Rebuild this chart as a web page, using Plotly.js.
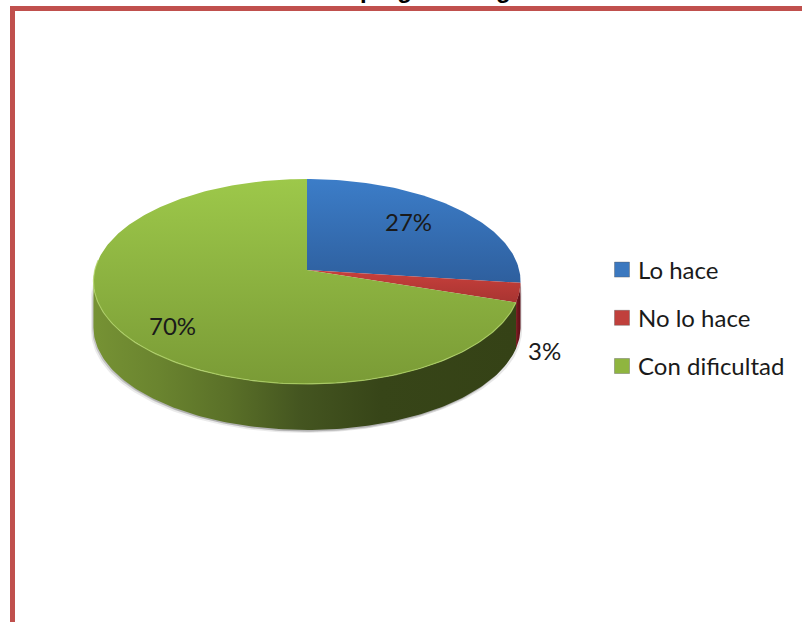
<!DOCTYPE html>
<html><head><meta charset="utf-8">
<script src="https://cdn.plot.ly/plotly-3.0.1.min.js"></script>
<style>html,body{margin:0;padding:0;background:#fff;overflow:hidden}#c{width:802px;height:622px}</style>
</head><body><div id="c"></div>
<script>
// data
const categories = ["Lo hace", "No lo hace", "Con dificultad"];
const shares = [27, 3, 70];
const titleText = "pregunta según";

// styles
const topScales = [
  [[0,"#2e5f9e"],[1,"#3c7dc8"]],
  [[0,"#a83431"],[1,"#c8403c"]],
  [[0,"#7a9b36"],[1,"#9dc84a"]]
];
const wallScales = [
  [[0,"#24456f"],[1,"#1d3a60"]],
  [[0,"#7c1a20"],[1,"#5a0e16"]],
  [[0,"#769234"],[0.155,"#6a842f"],[0.32,"#5a7028"],[0.49,"#445520"],[0.68,"#374518"],[1,"#354216"]]
];
const legendColors = ["#3b78bf","#c0403c","#8fb53f"];
const labelStyle = [{r:0.68,dx:-2,dy:-5},{r:1.12,dx:-1,dy:55},{r:0.75,dx:1,dy:9}];

// perspective disc projection
const cx=307, cy=270, a=212.2, b=101.2, k=0.112, depth=46;
function proj(deg,r){
  const t=deg*Math.PI/180, X=r*Math.sin(t), Y=-r*Math.cos(t), d=1-k*Y;
  return [cx+a*X/d, cy+b*Y/d];
}
const rightEdge=Math.acos(-k)*180/Math.PI, leftEdge=360-rightEdge;
const total=shares.reduce((s,v)=>s+v,0);
let start=0;
const spans=shares.map(v=>{const s=[start,start+v/total*360];start=s[1];return s;});

function arc(a0,a1){const n=Math.max(2,Math.ceil(Math.abs(a1-a0))),p=[];
  for(let i=0;i<=n;i++)p.push(proj(a0+(a1-a0)*i/n,1));return p;}
function wallPts(a0,a1){const e=arc(a0,a1);
  return e.concat(e.slice().reverse().map(q=>[q[0],q[1]+depth]));}

const traces=[];
// soft shadow
[[-2.5,3,0.10],[-1.2,1.5,0.22],[1.5,2,0.12]].forEach(s=>{
  const o=wallPts(rightEdge,leftEdge);
  traces.push({type:"scatter",mode:"lines",x:o.map(q=>q[0]+s[0]),y:o.map(q=>q[1]+s[1]),
    fill:"toself",fillcolor:"rgba(60,60,60,"+s[2]+")",line:{width:0},showlegend:false,hoverinfo:"skip"});
});
// walls
spans.forEach((s,i)=>{
  const a0=Math.max(s[0],rightEdge), a1=Math.min(s[1],leftEdge);
  if(a1<=a0) return;
  const o=wallPts(a0,a1);
  traces.push({type:"scatter",mode:"lines",x:o.map(q=>q[0]),y:o.map(q=>q[1]),fill:"toself",
    fillgradient:{type:"horizontal",colorscale:wallScales[i]},line:{width:0},showlegend:false,hoverinfo:"skip"});
});
// top faces
spans.forEach((s,i)=>{
  const o=[[cx,cy]].concat(arc(s[0],s[1])).concat([[cx,cy]]);
  traces.push({type:"scatter",mode:"lines",x:o.map(q=>q[0]),y:o.map(q=>q[1]),fill:"toself",
    fillgradient:{type:"vertical",colorscale:topScales[i]},line:{width:0},showlegend:false,hoverinfo:"skip"});
});
// bevel highlight on the near rim of the largest slice
const rim=arc(Math.max(spans[2][0],rightEdge),leftEdge+12);
traces.push({type:"scatter",mode:"lines",x:rim.map(q=>q[0]),y:rim.map(q=>q[1]),
  line:{width:1.2,color:"rgba(178,212,104,0.75)"},showlegend:false,hoverinfo:"skip"});
// legend entries
categories.forEach((c,i)=>{
  traces.push({type:"scatter",mode:"markers",x:[null],y:[null],name:c,legendgroup:c,
    marker:{symbol:"square",size:15,color:legendColors[i],line:{width:1,color:"rgba(90,90,90,0.4)"}}});
});

const anns=shares.map((v,i)=>{
  const m=(spans[i][0]+spans[i][1])/2, p=proj(m,labelStyle[i].r);
  return {x:p[0]+labelStyle[i].dx,y:p[1]+labelStyle[i].dy,xref:"x",yref:"y",text:v+"%",showarrow:false,
    xanchor:"center",yanchor:"middle",font:{family:"Lato",size:24,color:"#1a1a1a"}};
});
anns.push({xref:"x",x:358,xanchor:"left",yref:"paper",y:1,yanchor:"bottom",yshift:-5,text:"<b>"+titleText+"</b>",
  showarrow:false,font:{family:"Liberation Sans",size:24,color:"#000"}});

const frame="#c0504d";
const layout={
  width:802,height:622,margin:{l:0,r:0,t:0,b:0},paper_bgcolor:"#fff",plot_bgcolor:"#fff",
  xaxis:{range:[0,802],visible:false,fixedrange:true},
  yaxis:{range:[622,0],visible:false,fixedrange:true},
  showlegend:true,
  legend:{x:598/802,xanchor:"left",y:1-247.5/622,yanchor:"top",tracegroupgap:14,itemwidth:30,
    bgcolor:"rgba(0,0,0,0)",font:{family:"Lato",size:24,color:"#1a1a1a"}},
  shapes:[
    {type:"line",xref:"x",yref:"y",x0:10.5,x1:802,y0:8.5,y1:8.5,line:{color:frame,width:5}},
    {type:"line",xref:"x",yref:"y",x0:12.5,x1:12.5,y0:6,y1:622,line:{color:frame,width:5}}
  ],
  annotations:anns
};
Plotly.newPlot("c",traces,layout,{displayModeBar:false,staticPlot:true}).then(()=>{
  document.querySelectorAll(".legendsymbols").forEach(g=>g.setAttribute("transform","translate(4,0)"));
});
</script></body></html>
